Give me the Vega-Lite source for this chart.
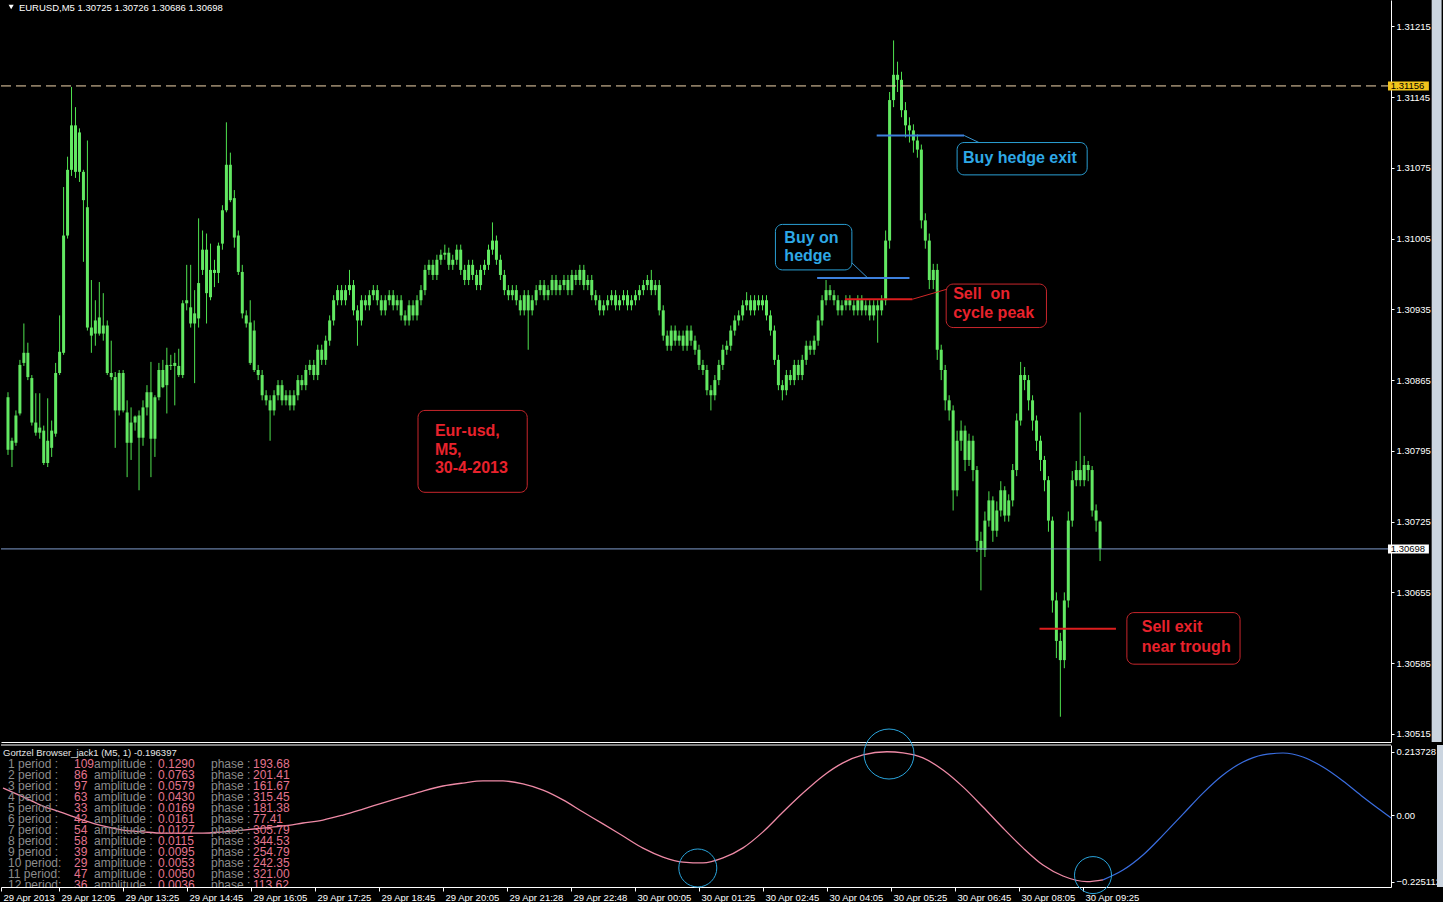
{
  "$schema": "https://vega.github.io/schema/vega-lite/v6.json",
  "background": "#000000",
  "padding": 0,
  "spacing": 3,
  "bounds": "flush",
  "config": {
    "view": {"stroke": null},
    "font": "Liberation Sans",
    "axis": {"grid": false, "title": null, "labelColor": "#ffffff", "labelFont": "Liberation Sans", "labelFontSize": 9.5, "tickColor": "#ffffff", "domainColor": "#ffffff", "domainWidth": 1, "tickWidth": 1}
  },
  "datasets": {
    "bars": [
      {"i":0,"o":1.30848,"h":1.30853,"l":1.30791,"c":1.30796},
      {"i":1,"o":1.30796,"h":1.30808,"l":1.30779,"c":1.30805},
      {"i":2,"o":1.30803,"h":1.30835,"l":1.30800,"c":1.30830},
      {"i":3,"o":1.30832,"h":1.30885,"l":1.30830,"c":1.30880},
      {"i":4,"o":1.30882,"h":1.30921,"l":1.30879,"c":1.30892},
      {"i":5,"o":1.30892,"h":1.30902,"l":1.30865,"c":1.30868},
      {"i":6,"o":1.30867,"h":1.30870,"l":1.30820,"c":1.30823},
      {"i":7,"o":1.30823,"h":1.30852,"l":1.30810,"c":1.30813},
      {"i":8,"o":1.30813,"h":1.30852,"l":1.30807,"c":1.30818},
      {"i":9,"o":1.30815,"h":1.30820,"l":1.30781,"c":1.30783},
      {"i":10,"o":1.30783,"h":1.30847,"l":1.30779,"c":1.30805},
      {"i":11,"o":1.30798,"h":1.30825,"l":1.30789,"c":1.30815},
      {"i":12,"o":1.30812,"h":1.30882,"l":1.30809,"c":1.30872},
      {"i":13,"o":1.30872,"h":1.30929,"l":1.30870,"c":1.30893},
      {"i":14,"o":1.30892,"h":1.31056,"l":1.30890,"c":1.31008},
      {"i":15,"o":1.31008,"h":1.31086,"l":1.31005,"c":1.31073},
      {"i":16,"o":1.31073,"h":1.31155,"l":1.31067,"c":1.31117},
      {"i":17,"o":1.31117,"h":1.31135,"l":1.31065,"c":1.31071},
      {"i":18,"o":1.31071,"h":1.31114,"l":1.31061,"c":1.31110},
      {"i":19,"o":1.31071,"h":1.31073,"l":1.30982,"c":1.31043},
      {"i":20,"o":1.31036,"h":1.31102,"l":1.30914,"c":1.30917},
      {"i":21,"o":1.30917,"h":1.30964,"l":1.30892,"c":1.30909},
      {"i":22,"o":1.30911,"h":1.30944,"l":1.30899,"c":1.30924},
      {"i":23,"o":1.30911,"h":1.30962,"l":1.30909,"c":1.30927},
      {"i":24,"o":1.30919,"h":1.30951,"l":1.30904,"c":1.30911},
      {"i":25,"o":1.30919,"h":1.30924,"l":1.30870,"c":1.30872},
      {"i":26,"o":1.30872,"h":1.30904,"l":1.30865,"c":1.30868},
      {"i":27,"o":1.30868,"h":1.30873,"l":1.30798,"c":1.30835},
      {"i":28,"o":1.30835,"h":1.30875,"l":1.30830,"c":1.30872},
      {"i":29,"o":1.30872,"h":1.30875,"l":1.30833,"c":1.30835},
      {"i":30,"o":1.30833,"h":1.30845,"l":1.30769,"c":1.30803},
      {"i":31,"o":1.30803,"h":1.30838,"l":1.30786,"c":1.30823},
      {"i":32,"o":1.30823,"h":1.30830,"l":1.30815,"c":1.30829},
      {"i":33,"o":1.30830,"h":1.30835,"l":1.30756,"c":1.30808},
      {"i":34,"o":1.30808,"h":1.30845,"l":1.30800,"c":1.30838},
      {"i":35,"o":1.30838,"h":1.30860,"l":1.30830,"c":1.30853},
      {"i":36,"o":1.30853,"h":1.30883,"l":1.30769,"c":1.30807},
      {"i":37,"o":1.30807,"h":1.30850,"l":1.30789,"c":1.30848},
      {"i":38,"o":1.30848,"h":1.30882,"l":1.30845,"c":1.30875},
      {"i":39,"o":1.30875,"h":1.30885,"l":1.30857,"c":1.30858},
      {"i":40,"o":1.30860,"h":1.30897,"l":1.30832,"c":1.30880},
      {"i":41,"o":1.30880,"h":1.30890,"l":1.30875,"c":1.30879},
      {"i":42,"o":1.30879,"h":1.30892,"l":1.30840,"c":1.30882},
      {"i":43,"o":1.30879,"h":1.30896,"l":1.30868,"c":1.30870},
      {"i":44,"o":1.30870,"h":1.30944,"l":1.30867,"c":1.30941},
      {"i":45,"o":1.30941,"h":1.30979,"l":1.30934,"c":1.30944},
      {"i":46,"o":1.30937,"h":1.30979,"l":1.30917,"c":1.30921},
      {"i":47,"o":1.30921,"h":1.30954,"l":1.30862,"c":1.30931},
      {"i":48,"o":1.30926,"h":1.31025,"l":1.30917,"c":1.30961},
      {"i":49,"o":1.30974,"h":1.31013,"l":1.30969,"c":1.30994},
      {"i":50,"o":1.30994,"h":1.31010,"l":1.30921,"c":1.30951},
      {"i":51,"o":1.30947,"h":1.31000,"l":1.30944,"c":1.30974},
      {"i":52,"o":1.30974,"h":1.30984,"l":1.30957,"c":1.30971},
      {"i":53,"o":1.30971,"h":1.31001,"l":1.30961,"c":1.30998},
      {"i":54,"o":1.31000,"h":1.31038,"l":1.30994,"c":1.31033},
      {"i":55,"o":1.31033,"h":1.31120,"l":1.31031,"c":1.31078},
      {"i":56,"o":1.31078,"h":1.31090,"l":1.31041,"c":1.31043},
      {"i":57,"o":1.31045,"h":1.31053,"l":1.30996,"c":1.31006},
      {"i":58,"o":1.31008,"h":1.31013,"l":1.30969,"c":1.30972},
      {"i":59,"o":1.30972,"h":1.30979,"l":1.30926,"c":1.30931},
      {"i":60,"o":1.30929,"h":1.30934,"l":1.30917,"c":1.30921},
      {"i":61,"o":1.30922,"h":1.30944,"l":1.30880,"c":1.30882},
      {"i":62,"o":1.30914,"h":1.30924,"l":1.30873,"c":1.30875},
      {"i":63,"o":1.30875,"h":1.30880,"l":1.30865,"c":1.30870},
      {"i":64,"o":1.30870,"h":1.30875,"l":1.30845,"c":1.30850},
      {"i":65,"o":1.30850,"h":1.30855,"l":1.30840,"c":1.30845},
      {"i":66,"o":1.30845,"h":1.30850,"l":1.30805,"c":1.30835},
      {"i":67,"o":1.30835,"h":1.30855,"l":1.30830,"c":1.30850},
      {"i":68,"o":1.30850,"h":1.30865,"l":1.30845,"c":1.30860},
      {"i":69,"o":1.30860,"h":1.30865,"l":1.30840,"c":1.30845},
      {"i":70,"o":1.30845,"h":1.30855,"l":1.30840,"c":1.30850},
      {"i":71,"o":1.30850,"h":1.30855,"l":1.30835,"c":1.30840},
      {"i":72,"o":1.30840,"h":1.30855,"l":1.30835,"c":1.30850},
      {"i":73,"o":1.30850,"h":1.30870,"l":1.30845,"c":1.30865},
      {"i":74,"o":1.30865,"h":1.30870,"l":1.30855,"c":1.30860},
      {"i":75,"o":1.30860,"h":1.30880,"l":1.30855,"c":1.30875},
      {"i":76,"o":1.30875,"h":1.30885,"l":1.30870,"c":1.30880},
      {"i":77,"o":1.30880,"h":1.30885,"l":1.30865,"c":1.30870},
      {"i":78,"o":1.30870,"h":1.30900,"l":1.30865,"c":1.30895},
      {"i":79,"o":1.30895,"h":1.30900,"l":1.30880,"c":1.30885},
      {"i":80,"o":1.30885,"h":1.30909,"l":1.30880,"c":1.30904},
      {"i":81,"o":1.30904,"h":1.30929,"l":1.30899,"c":1.30924},
      {"i":82,"o":1.30924,"h":1.30949,"l":1.30919,"c":1.30944},
      {"i":83,"o":1.30944,"h":1.30959,"l":1.30939,"c":1.30954},
      {"i":84,"o":1.30954,"h":1.30959,"l":1.30939,"c":1.30944},
      {"i":85,"o":1.30944,"h":1.30959,"l":1.30939,"c":1.30954},
      {"i":86,"o":1.30954,"h":1.30974,"l":1.30949,"c":1.30959},
      {"i":87,"o":1.30959,"h":1.30964,"l":1.30929,"c":1.30934},
      {"i":88,"o":1.30934,"h":1.30939,"l":1.30899,"c":1.30924},
      {"i":89,"o":1.30924,"h":1.30949,"l":1.30919,"c":1.30944},
      {"i":90,"o":1.30944,"h":1.30949,"l":1.30934,"c":1.30939},
      {"i":91,"o":1.30939,"h":1.30954,"l":1.30934,"c":1.30949},
      {"i":92,"o":1.30949,"h":1.30959,"l":1.30944,"c":1.30954},
      {"i":93,"o":1.30954,"h":1.30959,"l":1.30939,"c":1.30944},
      {"i":94,"o":1.30944,"h":1.30949,"l":1.30929,"c":1.30934},
      {"i":95,"o":1.30934,"h":1.30949,"l":1.30929,"c":1.30944},
      {"i":96,"o":1.30944,"h":1.30954,"l":1.30939,"c":1.30949},
      {"i":97,"o":1.30949,"h":1.30954,"l":1.30934,"c":1.30939},
      {"i":98,"o":1.30939,"h":1.30949,"l":1.30934,"c":1.30944},
      {"i":99,"o":1.30944,"h":1.30949,"l":1.30924,"c":1.30929},
      {"i":100,"o":1.30929,"h":1.30934,"l":1.30919,"c":1.30924},
      {"i":101,"o":1.30924,"h":1.30944,"l":1.30919,"c":1.30939},
      {"i":102,"o":1.30939,"h":1.30944,"l":1.30924,"c":1.30929},
      {"i":103,"o":1.30929,"h":1.30949,"l":1.30924,"c":1.30944},
      {"i":104,"o":1.30944,"h":1.30959,"l":1.30939,"c":1.30954},
      {"i":105,"o":1.30954,"h":1.30979,"l":1.30949,"c":1.30974},
      {"i":106,"o":1.30974,"h":1.30984,"l":1.30969,"c":1.30979},
      {"i":107,"o":1.30979,"h":1.30984,"l":1.30964,"c":1.30969},
      {"i":108,"o":1.30969,"h":1.30989,"l":1.30964,"c":1.30984},
      {"i":109,"o":1.30984,"h":1.30994,"l":1.30979,"c":1.30989},
      {"i":110,"o":1.30989,"h":1.30999,"l":1.30984,"c":1.30991},
      {"i":111,"o":1.30991,"h":1.30996,"l":1.30974,"c":1.30979},
      {"i":112,"o":1.30979,"h":1.30989,"l":1.30974,"c":1.30984},
      {"i":113,"o":1.30984,"h":1.30999,"l":1.30979,"c":1.30994},
      {"i":114,"o":1.30994,"h":1.30999,"l":1.30969,"c":1.30974},
      {"i":115,"o":1.30974,"h":1.30979,"l":1.30959,"c":1.30964},
      {"i":116,"o":1.30964,"h":1.30984,"l":1.30959,"c":1.30979},
      {"i":117,"o":1.30979,"h":1.30984,"l":1.30964,"c":1.30969},
      {"i":118,"o":1.30969,"h":1.30974,"l":1.30954,"c":1.30959},
      {"i":119,"o":1.30959,"h":1.30979,"l":1.30954,"c":1.30974},
      {"i":120,"o":1.30974,"h":1.30984,"l":1.30969,"c":1.30979},
      {"i":121,"o":1.30979,"h":1.30999,"l":1.30974,"c":1.30994},
      {"i":122,"o":1.30994,"h":1.31021,"l":1.30989,"c":1.31003},
      {"i":123,"o":1.31003,"h":1.31008,"l":1.30979,"c":1.30984},
      {"i":124,"o":1.30984,"h":1.30989,"l":1.30964,"c":1.30969},
      {"i":125,"o":1.30969,"h":1.30974,"l":1.30949,"c":1.30954},
      {"i":126,"o":1.30954,"h":1.30959,"l":1.30944,"c":1.30949},
      {"i":127,"o":1.30949,"h":1.30959,"l":1.30944,"c":1.30954},
      {"i":128,"o":1.30954,"h":1.30959,"l":1.30939,"c":1.30944},
      {"i":129,"o":1.30944,"h":1.30949,"l":1.30929,"c":1.30934},
      {"i":130,"o":1.30934,"h":1.30954,"l":1.30929,"c":1.30949},
      {"i":131,"o":1.30949,"h":1.30954,"l":1.30895,"c":1.30934},
      {"i":132,"o":1.30934,"h":1.30949,"l":1.30929,"c":1.30944},
      {"i":133,"o":1.30944,"h":1.30959,"l":1.30939,"c":1.30954},
      {"i":134,"o":1.30954,"h":1.30964,"l":1.30949,"c":1.30959},
      {"i":135,"o":1.30959,"h":1.30964,"l":1.30944,"c":1.30949},
      {"i":136,"o":1.30949,"h":1.30959,"l":1.30944,"c":1.30954},
      {"i":137,"o":1.30954,"h":1.30969,"l":1.30949,"c":1.30964},
      {"i":138,"o":1.30964,"h":1.30969,"l":1.30949,"c":1.30954},
      {"i":139,"o":1.30954,"h":1.30964,"l":1.30949,"c":1.30959},
      {"i":140,"o":1.30959,"h":1.30969,"l":1.30954,"c":1.30964},
      {"i":141,"o":1.30964,"h":1.30969,"l":1.30949,"c":1.30954},
      {"i":142,"o":1.30954,"h":1.30974,"l":1.30949,"c":1.30969},
      {"i":143,"o":1.30969,"h":1.30974,"l":1.30959,"c":1.30964},
      {"i":144,"o":1.30964,"h":1.30979,"l":1.30959,"c":1.30974},
      {"i":145,"o":1.30974,"h":1.30979,"l":1.30954,"c":1.30959},
      {"i":146,"o":1.30959,"h":1.30969,"l":1.30954,"c":1.30964},
      {"i":147,"o":1.30964,"h":1.30969,"l":1.30944,"c":1.30949},
      {"i":148,"o":1.30949,"h":1.30954,"l":1.30939,"c":1.30944},
      {"i":149,"o":1.30944,"h":1.30949,"l":1.30929,"c":1.30934},
      {"i":150,"o":1.30934,"h":1.30944,"l":1.30929,"c":1.30939},
      {"i":151,"o":1.30939,"h":1.30949,"l":1.30934,"c":1.30944},
      {"i":152,"o":1.30944,"h":1.30954,"l":1.30939,"c":1.30949},
      {"i":153,"o":1.30949,"h":1.30954,"l":1.30934,"c":1.30939},
      {"i":154,"o":1.30939,"h":1.30949,"l":1.30934,"c":1.30944},
      {"i":155,"o":1.30944,"h":1.30954,"l":1.30939,"c":1.30949},
      {"i":156,"o":1.30949,"h":1.30954,"l":1.30934,"c":1.30939},
      {"i":157,"o":1.30939,"h":1.30949,"l":1.30934,"c":1.30944},
      {"i":158,"o":1.30944,"h":1.30954,"l":1.30939,"c":1.30949},
      {"i":159,"o":1.30949,"h":1.30959,"l":1.30944,"c":1.30954},
      {"i":160,"o":1.30954,"h":1.30964,"l":1.30949,"c":1.30959},
      {"i":161,"o":1.30959,"h":1.30969,"l":1.30954,"c":1.30964},
      {"i":162,"o":1.30964,"h":1.30974,"l":1.30949,"c":1.30954},
      {"i":163,"o":1.30954,"h":1.30964,"l":1.30949,"c":1.30959},
      {"i":164,"o":1.30959,"h":1.30964,"l":1.30929,"c":1.30934},
      {"i":165,"o":1.30934,"h":1.30939,"l":1.30904,"c":1.30909},
      {"i":166,"o":1.30909,"h":1.30914,"l":1.30894,"c":1.30899},
      {"i":167,"o":1.30899,"h":1.30919,"l":1.30894,"c":1.30914},
      {"i":168,"o":1.30914,"h":1.30919,"l":1.30899,"c":1.30904},
      {"i":169,"o":1.30904,"h":1.30914,"l":1.30899,"c":1.30909},
      {"i":170,"o":1.30909,"h":1.30914,"l":1.30894,"c":1.30899},
      {"i":171,"o":1.30899,"h":1.30919,"l":1.30894,"c":1.30914},
      {"i":172,"o":1.30914,"h":1.30919,"l":1.30899,"c":1.30904},
      {"i":173,"o":1.30904,"h":1.30909,"l":1.30890,"c":1.30895},
      {"i":174,"o":1.30895,"h":1.30900,"l":1.30875,"c":1.30880},
      {"i":175,"o":1.30880,"h":1.30885,"l":1.30870,"c":1.30875},
      {"i":176,"o":1.30875,"h":1.30880,"l":1.30850,"c":1.30855},
      {"i":177,"o":1.30855,"h":1.30860,"l":1.30835,"c":1.30850},
      {"i":178,"o":1.30850,"h":1.30870,"l":1.30845,"c":1.30865},
      {"i":179,"o":1.30865,"h":1.30885,"l":1.30860,"c":1.30880},
      {"i":180,"o":1.30880,"h":1.30900,"l":1.30875,"c":1.30895},
      {"i":181,"o":1.30895,"h":1.30904,"l":1.30890,"c":1.30899},
      {"i":182,"o":1.30899,"h":1.30919,"l":1.30894,"c":1.30914},
      {"i":183,"o":1.30914,"h":1.30929,"l":1.30909,"c":1.30924},
      {"i":184,"o":1.30924,"h":1.30934,"l":1.30919,"c":1.30929},
      {"i":185,"o":1.30929,"h":1.30944,"l":1.30924,"c":1.30939},
      {"i":186,"o":1.30939,"h":1.30952,"l":1.30934,"c":1.30944},
      {"i":187,"o":1.30944,"h":1.30949,"l":1.30929,"c":1.30934},
      {"i":188,"o":1.30934,"h":1.30949,"l":1.30929,"c":1.30944},
      {"i":189,"o":1.30944,"h":1.30949,"l":1.30934,"c":1.30939},
      {"i":190,"o":1.30939,"h":1.30949,"l":1.30934,"c":1.30944},
      {"i":191,"o":1.30944,"h":1.30949,"l":1.30924,"c":1.30929},
      {"i":192,"o":1.30929,"h":1.30934,"l":1.30909,"c":1.30914},
      {"i":193,"o":1.30914,"h":1.30919,"l":1.30880,"c":1.30885},
      {"i":194,"o":1.30885,"h":1.30890,"l":1.30855,"c":1.30860},
      {"i":195,"o":1.30860,"h":1.30865,"l":1.30845,"c":1.30855},
      {"i":196,"o":1.30855,"h":1.30875,"l":1.30850,"c":1.30870},
      {"i":197,"o":1.30870,"h":1.30875,"l":1.30860,"c":1.30865},
      {"i":198,"o":1.30865,"h":1.30885,"l":1.30860,"c":1.30880},
      {"i":199,"o":1.30880,"h":1.30885,"l":1.30865,"c":1.30870},
      {"i":200,"o":1.30870,"h":1.30890,"l":1.30865,"c":1.30885},
      {"i":201,"o":1.30885,"h":1.30904,"l":1.30880,"c":1.30899},
      {"i":202,"o":1.30899,"h":1.30904,"l":1.30890,"c":1.30895},
      {"i":203,"o":1.30895,"h":1.30909,"l":1.30890,"c":1.30904},
      {"i":204,"o":1.30904,"h":1.30929,"l":1.30899,"c":1.30924},
      {"i":205,"o":1.30924,"h":1.30949,"l":1.30919,"c":1.30944},
      {"i":206,"o":1.30944,"h":1.30964,"l":1.30939,"c":1.30954},
      {"i":207,"o":1.30954,"h":1.30959,"l":1.30944,"c":1.30949},
      {"i":208,"o":1.30949,"h":1.30954,"l":1.30939,"c":1.30944},
      {"i":209,"o":1.30944,"h":1.30949,"l":1.30929,"c":1.30934},
      {"i":210,"o":1.30934,"h":1.30944,"l":1.30929,"c":1.30939},
      {"i":211,"o":1.30939,"h":1.30949,"l":1.30934,"c":1.30944},
      {"i":212,"o":1.30944,"h":1.30949,"l":1.30934,"c":1.30939},
      {"i":213,"o":1.30939,"h":1.30944,"l":1.30929,"c":1.30934},
      {"i":214,"o":1.30934,"h":1.30949,"l":1.30929,"c":1.30944},
      {"i":215,"o":1.30944,"h":1.30949,"l":1.30929,"c":1.30934},
      {"i":216,"o":1.30934,"h":1.30944,"l":1.30929,"c":1.30939},
      {"i":217,"o":1.30939,"h":1.30944,"l":1.30924,"c":1.30929},
      {"i":218,"o":1.30929,"h":1.30944,"l":1.30924,"c":1.30939},
      {"i":219,"o":1.30939,"h":1.30944,"l":1.30902,"c":1.30934},
      {"i":220,"o":1.30934,"h":1.30949,"l":1.30929,"c":1.30944},
      {"i":221,"o":1.30944,"h":1.31013,"l":1.30939,"c":1.31003},
      {"i":222,"o":1.31003,"h":1.31150,"l":1.30995,"c":1.31142},
      {"i":223,"o":1.31142,"h":1.31201,"l":1.31135,"c":1.31167},
      {"i":224,"o":1.31167,"h":1.31180,"l":1.31150,"c":1.31162},
      {"i":225,"o":1.31162,"h":1.31170,"l":1.31125,"c":1.31132},
      {"i":226,"o":1.31132,"h":1.31140,"l":1.31105,"c":1.31117},
      {"i":227,"o":1.31117,"h":1.31125,"l":1.31100,"c":1.31112},
      {"i":228,"o":1.31112,"h":1.31118,"l":1.31090,"c":1.31102},
      {"i":229,"o":1.31102,"h":1.31108,"l":1.31085,"c":1.31093},
      {"i":230,"o":1.31093,"h":1.31098,"l":1.31015,"c":1.31023},
      {"i":231,"o":1.31023,"h":1.31030,"l":1.30995,"c":1.31003},
      {"i":232,"o":1.31003,"h":1.31010,"l":1.30955,"c":1.30964},
      {"i":233,"o":1.30964,"h":1.30980,"l":1.30955,"c":1.30974},
      {"i":234,"o":1.30974,"h":1.30980,"l":1.30885,"c":1.30895},
      {"i":235,"o":1.30895,"h":1.30900,"l":1.30865,"c":1.30875},
      {"i":236,"o":1.30875,"h":1.30880,"l":1.30835,"c":1.30845},
      {"i":237,"o":1.30845,"h":1.30850,"l":1.30825,"c":1.30835},
      {"i":238,"o":1.30835,"h":1.30840,"l":1.30736,"c":1.30756},
      {"i":239,"o":1.30756,"h":1.30815,"l":1.30750,"c":1.30805},
      {"i":240,"o":1.30805,"h":1.30825,"l":1.30795,"c":1.30815},
      {"i":241,"o":1.30815,"h":1.30820,"l":1.30775,"c":1.30786},
      {"i":242,"o":1.30786,"h":1.30812,"l":1.30780,"c":1.30805},
      {"i":243,"o":1.30805,"h":1.30810,"l":1.30765,"c":1.30776},
      {"i":244,"o":1.30776,"h":1.30780,"l":1.30695,"c":1.30706},
      {"i":245,"o":1.30706,"h":1.30715,"l":1.30657,"c":1.30697},
      {"i":246,"o":1.30697,"h":1.30735,"l":1.30690,"c":1.30726},
      {"i":247,"o":1.30726,"h":1.30755,"l":1.30720,"c":1.30746},
      {"i":248,"o":1.30746,"h":1.30750,"l":1.30705,"c":1.30716},
      {"i":249,"o":1.30716,"h":1.30745,"l":1.30710,"c":1.30736},
      {"i":250,"o":1.30736,"h":1.30765,"l":1.30730,"c":1.30756},
      {"i":251,"o":1.30756,"h":1.30760,"l":1.30725,"c":1.30731},
      {"i":252,"o":1.30731,"h":1.30752,"l":1.30725,"c":1.30746},
      {"i":253,"o":1.30746,"h":1.30782,"l":1.30740,"c":1.30776},
      {"i":254,"o":1.30776,"h":1.30832,"l":1.30770,"c":1.30825},
      {"i":255,"o":1.30825,"h":1.30883,"l":1.30820,"c":1.30870},
      {"i":256,"o":1.30870,"h":1.30878,"l":1.30855,"c":1.30865},
      {"i":257,"o":1.30865,"h":1.30870,"l":1.30835,"c":1.30845},
      {"i":258,"o":1.30845,"h":1.30850,"l":1.30815,"c":1.30825},
      {"i":259,"o":1.30825,"h":1.30830,"l":1.30795,"c":1.30805},
      {"i":260,"o":1.30805,"h":1.30810,"l":1.30775,"c":1.30786},
      {"i":261,"o":1.30786,"h":1.30790,"l":1.30755,"c":1.30766},
      {"i":262,"o":1.30766,"h":1.30770,"l":1.30715,"c":1.30726},
      {"i":263,"o":1.30726,"h":1.30730,"l":1.30635,"c":1.30647},
      {"i":264,"o":1.30647,"h":1.30655,"l":1.30590,"c":1.30607},
      {"i":265,"o":1.30607,"h":1.30615,"l":1.30532,"c":1.30588},
      {"i":266,"o":1.30588,"h":1.30655,"l":1.30580,"c":1.30647},
      {"i":267,"o":1.30647,"h":1.30735,"l":1.30640,"c":1.30726},
      {"i":268,"o":1.30726,"h":1.30775,"l":1.30720,"c":1.30766},
      {"i":269,"o":1.30766,"h":1.30785,"l":1.30760,"c":1.30776},
      {"i":270,"o":1.30776,"h":1.30833,"l":1.30760,"c":1.30766},
      {"i":271,"o":1.30766,"h":1.30790,"l":1.30760,"c":1.30781},
      {"i":272,"o":1.30781,"h":1.30785,"l":1.30765,"c":1.30776},
      {"i":273,"o":1.30776,"h":1.30780,"l":1.30730,"c":1.30736},
      {"i":274,"o":1.30736,"h":1.30742,"l":1.30715,"c":1.30726},
      {"i":275,"o":1.30725,"h":1.30726,"l":1.30686,"c":1.30698}
    ],
    "quotes": [
      {"kind": "high", "p": 1.31156},
      {"kind": "last", "p": 1.30698}
    ],
    "caption": [
      {"x": 2.75, "p": 1.31233, "t": "EURUSD,M5  1.30725 1.30726 1.30686 1.30698"}
    ],
    "marker": [
      {"x": 0.8, "p": 1.31234}
    ],
    "edge": [
      {"x1": 358.5, "x2": 361}
    ],
    "notes": [
      {"side": "info", "x": 107.5, "p": 1.30815, "t": "Eur-usd,"},
      {"side": "info", "x": 107.5, "p": 1.30796, "t": "M5,"},
      {"side": "info", "x": 107.5, "p": 1.30778, "t": "30-4-2013"},
      {"side": "buy", "x": 195.5, "p": 1.31006, "t": "Buy on"},
      {"side": "buy", "x": 195.5, "p": 1.30988, "t": "hedge"},
      {"side": "buy", "x": 240.5, "p": 1.31085, "t": "Buy hedge exit"},
      {"side": "sell", "x": 238, "p": 1.30950, "t": "Sell \u00a0on"},
      {"side": "sell", "x": 238, "p": 1.30931, "t": "cycle peak"},
      {"side": "sell", "x": 285.5, "p": 1.30621, "t": "Sell exit"},
      {"side": "sell", "x": 285.5, "p": 1.30601, "t": "near trough"}
    ],
    "boxes": [
      {"side": "info", "x1": 103.25, "x2": 130.75, "p1": 1.30835, "p2": 1.30754},
      {"side": "buy", "x1": 193.25, "x2": 212.5, "p1": 1.31019, "p2": 1.30974},
      {"side": "buy", "x1": 239, "x2": 271.75, "p1": 1.31100, "p2": 1.31068},
      {"side": "sell", "x1": 236.25, "x2": 261.5, "p1": 1.30960, "p2": 1.30917},
      {"side": "sell", "x1": 281.75, "x2": 310.25, "p1": 1.30635, "p2": 1.30584}
    ],
    "trades": [
      {"side": "buy", "x1": 203.75, "x2": 227, "p": 1.30966},
      {"side": "buy", "x1": 218.75, "x2": 240.75, "p": 1.31107},
      {"side": "sell", "x1": 210.75, "x2": 227.75, "p": 1.30945},
      {"side": "sell", "x1": 259.75, "x2": 279, "p": 1.30619}
    ],
    "links": [
      {"side": "buy", "x1": 212.5, "p1": 1.30981, "x2": 216.5, "p2": 1.30966},
      {"side": "buy", "x1": 240.75, "p1": 1.31107, "x2": 244.5, "p2": 1.31100},
      {"side": "sell", "x1": 227.75, "p1": 1.30945, "x2": 236.5, "p2": 1.30955}
    ],
    "rings": [
      {"id": "peak", "b": 221.5, "v": 0.206},
      {"id": "trough1", "b": 173.7, "v": -0.179},
      {"id": "trough2", "b": 272.5, "v": -0.203}
    ],
    "frame": [
      {"v": 0.2365}
    ],
    "osc": [
      {"seg": "past", "b": 0, "v": 0.091},
      {"seg": "past", "b": 5, "v": 0.061},
      {"seg": "past", "b": 10, "v": 0.030},
      {"seg": "past", "b": 15, "v": 0.007},
      {"seg": "past", "b": 20, "v": -0.017},
      {"seg": "past", "b": 25, "v": -0.037},
      {"seg": "past", "b": 30, "v": -0.051},
      {"seg": "past", "b": 35, "v": -0.057},
      {"seg": "past", "b": 40, "v": -0.061},
      {"seg": "past", "b": 45, "v": -0.061},
      {"seg": "past", "b": 50, "v": -0.061},
      {"seg": "past", "b": 55, "v": -0.057},
      {"seg": "past", "b": 60, "v": -0.051},
      {"seg": "past", "b": 65, "v": -0.044},
      {"seg": "past", "b": 70, "v": -0.037},
      {"seg": "past", "b": 75, "v": -0.027},
      {"seg": "past", "b": 80, "v": -0.017},
      {"seg": "past", "b": 85, "v": 0.000},
      {"seg": "past", "b": 90, "v": 0.020},
      {"seg": "past", "b": 95, "v": 0.041},
      {"seg": "past", "b": 100, "v": 0.061},
      {"seg": "past", "b": 105, "v": 0.081},
      {"seg": "past", "b": 110, "v": 0.098},
      {"seg": "past", "b": 115, "v": 0.108},
      {"seg": "past", "b": 120, "v": 0.115},
      {"seg": "past", "b": 125, "v": 0.115},
      {"seg": "past", "b": 130, "v": 0.105},
      {"seg": "past", "b": 135, "v": 0.084},
      {"seg": "past", "b": 140, "v": 0.051},
      {"seg": "past", "b": 145, "v": 0.010},
      {"seg": "past", "b": 150, "v": -0.030},
      {"seg": "past", "b": 155, "v": -0.071},
      {"seg": "past", "b": 160, "v": -0.112},
      {"seg": "past", "b": 165, "v": -0.142},
      {"seg": "past", "b": 170, "v": -0.159},
      {"seg": "past", "b": 175, "v": -0.162},
      {"seg": "past", "b": 180, "v": -0.145},
      {"seg": "past", "b": 185, "v": -0.111},
      {"seg": "past", "b": 190, "v": -0.057},
      {"seg": "past", "b": 195, "v": 0.010},
      {"seg": "past", "b": 200, "v": 0.074},
      {"seg": "past", "b": 205, "v": 0.132},
      {"seg": "past", "b": 210, "v": 0.176},
      {"seg": "past", "b": 215, "v": 0.203},
      {"seg": "past", "b": 221, "v": 0.2137},
      {"seg": "past", "b": 225, "v": 0.210},
      {"seg": "past", "b": 230, "v": 0.193},
      {"seg": "past", "b": 235, "v": 0.152},
      {"seg": "past", "b": 240, "v": 0.095},
      {"seg": "past", "b": 245, "v": 0.027},
      {"seg": "past", "b": 250, "v": -0.044},
      {"seg": "past", "b": 255, "v": -0.111},
      {"seg": "past", "b": 260, "v": -0.169},
      {"seg": "past", "b": 265, "v": -0.206},
      {"seg": "past", "b": 271, "v": -0.2251},
      {"seg": "past", "b": 275, "v": -0.219},
      {"seg": "next", "b": 275, "v": -0.219},
      {"seg": "next", "b": 280, "v": -0.186},
      {"seg": "next", "b": 285, "v": -0.135},
      {"seg": "next", "b": 290, "v": -0.068},
      {"seg": "next", "b": 295, "v": 0.003},
      {"seg": "next", "b": 300, "v": 0.074},
      {"seg": "next", "b": 305, "v": 0.135},
      {"seg": "next", "b": 310, "v": 0.179},
      {"seg": "next", "b": 315, "v": 0.203},
      {"seg": "next", "b": 320, "v": 0.2095},
      {"seg": "next", "b": 325, "v": 0.196},
      {"seg": "next", "b": 330, "v": 0.162},
      {"seg": "next", "b": 335, "v": 0.115},
      {"seg": "next", "b": 340, "v": 0.061},
      {"seg": "next", "b": 345, "v": 0.010},
      {"seg": "next", "b": 347, "v": -0.010}
    ],
    "heading": [
      {"r": 0, "t": "Gortzel Browser_jack1 (M5, 1) -0.196397"}
    ],
    "stats": [
      {"r": 1, "lbl": "1 period :", "per": 109, "amp": 0.1290, "ph": 193.68},
      {"r": 2, "lbl": "2 period :", "per": 86, "amp": 0.0763, "ph": 201.41},
      {"r": 3, "lbl": "3 period :", "per": 97, "amp": 0.0579, "ph": 161.67},
      {"r": 4, "lbl": "4 period :", "per": 63, "amp": 0.0430, "ph": 315.45},
      {"r": 5, "lbl": "5 period :", "per": 33, "amp": 0.0169, "ph": 181.38},
      {"r": 6, "lbl": "6 period :", "per": 42, "amp": 0.0161, "ph": 77.41},
      {"r": 7, "lbl": "7 period :", "per": 54, "amp": 0.0127, "ph": 305.79},
      {"r": 8, "lbl": "8 period :", "per": 58, "amp": 0.0115, "ph": 344.53},
      {"r": 9, "lbl": "9 period :", "per": 39, "amp": 0.0095, "ph": 254.79},
      {"r": 10, "lbl": "10 period:", "per": 29, "amp": 0.0053, "ph": 242.35},
      {"r": 11, "lbl": "11 period:", "per": 47, "amp": 0.0050, "ph": 321.00},
      {"r": 12, "lbl": "12 period:", "per": 36, "amp": 0.0036, "ph": 113.62}
    ]
  },
  "vconcat": [
    {
      "width": 1390,
      "height": 742,
      "layer": [
        {
          "data": {"name": "bars"},
          "mark": {"type": "rule", "color": "#4fe24f", "strokeWidth": 1},
          "encoding": {
            "x": {"field": "i", "type": "quantitative", "scale": {"domain": [-0.5, 347], "nice": false, "zero": false}, "axis": {"orient": "bottom", "labels": false, "ticks": false, "domain": true}},
            "y": {"field": "l", "type": "quantitative", "scale": {"domain": [1.30507, 1.31241], "nice": false, "zero": false}, "axis": {"orient": "right", "values": [1.31215, 1.3118, 1.31145, 1.3111, 1.31075, 1.3104, 1.31005, 1.3097, 1.30935, 1.309, 1.30865, 1.3083, 1.30795, 1.3076, 1.30725, 1.3069, 1.30655, 1.3062, 1.30585, 1.3055, 1.30515], "format": ".5f", "tickSize": 3, "labelPadding": 2, "labelBaseline": "middle"}},
            "y2": {"field": "h"}
          }
        },
        {
          "data": {"name": "bars"},
          "mark": {"type": "bar", "size": 3, "color": "#62e862"},
          "encoding": {
            "x": {"field": "i", "type": "quantitative"},
            "y": {"field": "o", "type": "quantitative"},
            "y2": {"field": "c"}
          }
        },
        {
          "data": {"name": "quotes"},
          "transform": [{"filter": "datum.kind == 'high'"}],
          "mark": {"type": "rule", "color": "#f2d6ac", "strokeWidth": 1, "strokeDash": [10, 5]},
          "encoding": {"y": {"field": "p", "type": "quantitative"}}
        },
        {
          "data": {"name": "quotes"},
          "transform": [{"filter": "datum.kind == 'last'"}],
          "mark": {"type": "rule", "color": "#7f9ccc", "strokeWidth": 1},
          "encoding": {"y": {"field": "p", "type": "quantitative"}}
        },
        {
          "data": {"name": "quotes"},
          "transform": [{"filter": "datum.kind == 'high'"}],
          "mark": {"type": "rect", "color": "#f2c41c", "clip": false, "yOffset": -4.5, "y2Offset": 4.5},
          "encoding": {"x": {"datum": 347.5}, "x2": {"datum": 357.8}, "y": {"field": "p", "type": "quantitative"}, "y2": {"field": "p"}}
        },
        {
          "data": {"name": "quotes"},
          "transform": [{"filter": "datum.kind == 'last'"}],
          "mark": {"type": "rect", "color": "#ffffff", "clip": false, "yOffset": -4.5, "y2Offset": 4.5},
          "encoding": {"x": {"datum": 347.5}, "x2": {"datum": 357.8}, "y": {"field": "p", "type": "quantitative"}, "y2": {"field": "p"}}
        },
        {
          "data": {"name": "quotes"},
          "mark": {"type": "text", "color": "#000000", "font": "Liberation Sans", "fontSize": 9.5, "align": "left", "baseline": "middle", "clip": false},
          "encoding": {"x": {"datum": 348.2}, "y": {"field": "p", "type": "quantitative"}, "text": {"field": "p", "format": ".5f"}}
        },
        {
          "data": {"name": "edge"},
          "mark": {"type": "rect", "color": "#cbd5e0", "clip": false, "y2Offset": 3},
          "encoding": {"x": {"field": "x1", "type": "quantitative"}, "x2": {"field": "x2"}}
        },
        {
          "data": {"name": "trades"},
          "transform": [{"filter": "datum.side == 'buy'"}],
          "mark": {"type": "rule", "color": "#3d80dc", "strokeWidth": 2},
          "encoding": {"x": {"field": "x1", "type": "quantitative"}, "x2": {"field": "x2"}, "y": {"field": "p", "type": "quantitative"}}
        },
        {
          "data": {"name": "trades"},
          "transform": [{"filter": "datum.side == 'sell'"}],
          "mark": {"type": "rule", "color": "#dc1e1e", "strokeWidth": 2},
          "encoding": {"x": {"field": "x1", "type": "quantitative"}, "x2": {"field": "x2"}, "y": {"field": "p", "type": "quantitative"}}
        },
        {
          "data": {"name": "links"},
          "transform": [{"filter": "datum.side == 'buy'"}],
          "mark": {"type": "rule", "color": "#3a94d0", "strokeWidth": 1},
          "encoding": {"x": {"field": "x1", "type": "quantitative"}, "x2": {"field": "x2"}, "y": {"field": "p1", "type": "quantitative"}, "y2": {"field": "p2"}}
        },
        {
          "data": {"name": "links"},
          "transform": [{"filter": "datum.side == 'sell'"}],
          "mark": {"type": "rule", "color": "#d02828", "strokeWidth": 1},
          "encoding": {"x": {"field": "x1", "type": "quantitative"}, "x2": {"field": "x2"}, "y": {"field": "p1", "type": "quantitative"}, "y2": {"field": "p2"}}
        },
        {
          "data": {"name": "boxes"},
          "transform": [{"filter": "datum.side == 'buy'"}],
          "mark": {"type": "rect", "fillOpacity": 0, "stroke": "#2a9fd4", "strokeWidth": 1, "cornerRadius": 7},
          "encoding": {"x": {"field": "x1", "type": "quantitative"}, "x2": {"field": "x2"}, "y": {"field": "p1", "type": "quantitative"}, "y2": {"field": "p2"}}
        },
        {
          "data": {"name": "boxes"},
          "transform": [{"filter": "datum.side != 'buy'"}],
          "mark": {"type": "rect", "fillOpacity": 0, "stroke": "#c8262c", "strokeWidth": 1, "cornerRadius": 7},
          "encoding": {"x": {"field": "x1", "type": "quantitative"}, "x2": {"field": "x2"}, "y": {"field": "p1", "type": "quantitative"}, "y2": {"field": "p2"}}
        },
        {
          "data": {"name": "notes"},
          "transform": [{"filter": "datum.side == 'buy'"}],
          "mark": {"type": "text", "color": "#2ea8e6", "font": "Liberation Sans", "fontSize": 16, "fontWeight": "bold", "align": "left", "baseline": "middle"},
          "encoding": {"x": {"field": "x", "type": "quantitative"}, "y": {"field": "p", "type": "quantitative"}, "text": {"field": "t"}}
        },
        {
          "data": {"name": "notes"},
          "transform": [{"filter": "datum.side != 'buy'"}],
          "mark": {"type": "text", "color": "#e8222c", "font": "Liberation Sans", "fontSize": 16, "fontWeight": "bold", "align": "left", "baseline": "middle"},
          "encoding": {"x": {"field": "x", "type": "quantitative"}, "y": {"field": "p", "type": "quantitative"}, "text": {"field": "t"}}
        },
        {
          "data": {"name": "marker"},
          "mark": {"type": "point", "shape": "triangle-down", "filled": true, "color": "#ffffff", "size": 26, "opacity": 1},
          "encoding": {"x": {"field": "x", "type": "quantitative"}, "y": {"field": "p", "type": "quantitative"}}
        },
        {
          "data": {"name": "caption"},
          "mark": {"type": "text", "color": "#ffffff", "font": "Liberation Sans", "fontSize": 9.5, "align": "left", "baseline": "middle"},
          "encoding": {"x": {"field": "x", "type": "quantitative"}, "y": {"field": "p", "type": "quantitative"}, "text": {"field": "t"}}
        }
      ]
    },
    {
      "width": 1390,
      "height": 142,
      "resolve": {"scale": {"y": "independent"}, "axis": {"y": "independent"}},
      "layer": [
        {
          "layer": [
            {
              "data": {"name": "frame"},
              "mark": {"type": "rule", "color": "#ffffff", "strokeWidth": 1},
              "encoding": {"y": {"field": "v", "type": "quantitative"}}
            },
            {
              "data": {"name": "osc"},
              "transform": [{"filter": "datum.seg == 'past'"}],
              "mark": {"type": "line", "color": "#ee8aa6", "strokeWidth": 1.3, "interpolate": "monotone"},
              "encoding": {
                "x": {"field": "b", "type": "quantitative", "scale": {"domain": [-0.5, 347], "nice": false, "zero": false}, "axis": {"orient": "bottom", "values": [-0.5, 14, 30, 46, 62, 78, 94, 110, 126, 142, 158, 174, 190, 206, 222, 238, 254, 270], "labelExpr": "datum.value < 0 ? '29 Apr 2013' : ['29 Apr 12:05','29 Apr 13:25','29 Apr 14:45','29 Apr 16:05','29 Apr 17:25','29 Apr 18:45','29 Apr 20:05','29 Apr 21:28','29 Apr 22:48','30 Apr 00:05','30 Apr 01:25','30 Apr 02:45','30 Apr 04:05','30 Apr 05:25','30 Apr 06:45','30 Apr 08:05','30 Apr 09:25'][(datum.value - 14) / 16]", "labelAlign": "left", "labelBaseline": "top", "tickSize": 4, "labelPadding": 1, "labelOffset": 2, "labelOverlap": false, "labelBound": false, "labelFlush": false}},
                "y": {"field": "v", "type": "quantitative", "scale": {"domain": [-0.2432, 0.2365], "nice": false, "zero": false}, "axis": {"orient": "right", "values": [0.213728, 0, -0.225112], "labelExpr": "datum.value == 0 ? '0.00' : format(datum.value, '.6f')", "tickSize": 3, "labelPadding": 2}}
              }
            },
            {
              "data": {"name": "osc"},
              "transform": [{"filter": "datum.seg == 'next'"}],
              "mark": {"type": "line", "color": "#3a6ee0", "strokeWidth": 1.2, "interpolate": "monotone"},
              "encoding": {"x": {"field": "b", "type": "quantitative"}, "y": {"field": "v", "type": "quantitative"}}
            },
            {
              "data": {"name": "rings"},
              "transform": [{"filter": "datum.id == 'peak'"}],
              "mark": {"type": "point", "shape": "circle", "filled": false, "color": "#2aa4dc", "strokeWidth": 1, "size": 2500, "clip": false, "opacity": 1},
              "encoding": {"x": {"field": "b", "type": "quantitative"}, "y": {"field": "v", "type": "quantitative"}}
            },
            {
              "data": {"name": "rings"},
              "transform": [{"filter": "datum.id == 'trough1'"}],
              "mark": {"type": "point", "shape": "circle", "filled": false, "color": "#2aa4dc", "strokeWidth": 1, "size": 1444, "clip": false, "opacity": 1},
              "encoding": {"x": {"field": "b", "type": "quantitative"}, "y": {"field": "v", "type": "quantitative"}}
            },
            {
              "data": {"name": "rings"},
              "transform": [{"filter": "datum.id == 'trough2'"}],
              "mark": {"type": "point", "shape": "circle", "filled": false, "color": "#2aa4dc", "strokeWidth": 1, "size": 1369, "clip": false, "opacity": 1},
              "encoding": {"x": {"field": "b", "type": "quantitative"}, "y": {"field": "v", "type": "quantitative"}}
            },
            {
              "data": {"name": "edge"},
              "mark": {"type": "rect", "color": "#cbd5e0", "clip": false, "y2Offset": 20},
              "encoding": {"x": {"field": "x1", "type": "quantitative"}, "x2": {"field": "x2"}}
            }
          ]
        },
        {
          "layer": [
            {
              "data": {"name": "heading"},
              "mark": {"type": "text", "color": "#e6e6e6", "font": "Liberation Sans", "fontSize": 9.5, "align": "left", "baseline": "middle"},
              "encoding": {"x": {"datum": 0}, "y": {"field": "r", "type": "quantitative", "scale": {"domain": [-0.727, 12.182], "reverse": true, "nice": false, "zero": false}, "axis": null}, "text": {"field": "t"}}
            },
            {
              "data": {"name": "stats"},
              "mark": {"type": "text", "color": "#8c8c8c", "font": "Liberation Sans", "fontSize": 12, "align": "left", "baseline": "middle", "clip": true},
              "encoding": {"x": {"datum": 1.25}, "y": {"field": "r", "type": "quantitative"}, "text": {"field": "lbl"}}
            },
            {
              "data": {"name": "stats"},
              "mark": {"type": "text", "color": "#e4748e", "font": "Liberation Sans", "fontSize": 12, "align": "left", "baseline": "middle", "clip": true},
              "encoding": {"x": {"datum": 17.75}, "y": {"field": "r", "type": "quantitative"}, "text": {"field": "per"}}
            },
            {
              "data": {"name": "stats"},
              "mark": {"type": "text", "text": "amplitude :", "color": "#8c8c8c", "font": "Liberation Sans", "fontSize": 12, "align": "left", "baseline": "middle", "clip": true},
              "encoding": {"x": {"datum": 22.75}, "y": {"field": "r", "type": "quantitative"}}
            },
            {
              "data": {"name": "stats"},
              "mark": {"type": "text", "color": "#e4748e", "font": "Liberation Sans", "fontSize": 12, "align": "left", "baseline": "middle", "clip": true},
              "encoding": {"x": {"datum": 38.75}, "y": {"field": "r", "type": "quantitative"}, "text": {"field": "amp", "format": ".4f"}}
            },
            {
              "data": {"name": "stats"},
              "mark": {"type": "text", "text": "phase :", "color": "#8c8c8c", "font": "Liberation Sans", "fontSize": 12, "align": "left", "baseline": "middle", "clip": true},
              "encoding": {"x": {"datum": 52}, "y": {"field": "r", "type": "quantitative"}}
            },
            {
              "data": {"name": "stats"},
              "mark": {"type": "text", "color": "#e4748e", "font": "Liberation Sans", "fontSize": 12, "align": "left", "baseline": "middle", "clip": true},
              "encoding": {"x": {"datum": 62.5}, "y": {"field": "r", "type": "quantitative"}, "text": {"field": "ph", "format": ".2f"}}
            }
          ]
        }
      ]
    }
  ]
}
